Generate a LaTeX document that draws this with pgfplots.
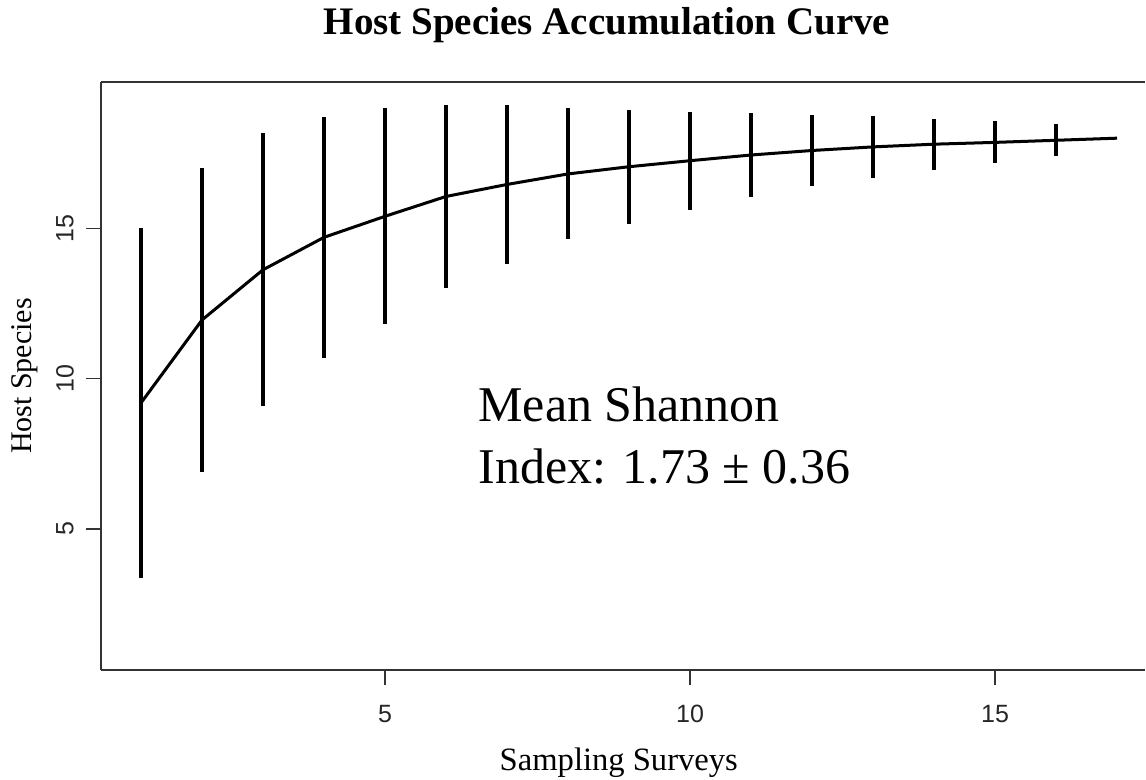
\documentclass[border=0pt]{standalone}
\usepackage{pgfplots}
\pgfplotsset{compat=1.18}
\usepackage{fontspec}
\setmainfont{Liberation Serif}
\newfontfamily\arialf{Liberation Sans}

\pgfplotstableread{
x  y      sd
1  9.19   5.82
2  11.95  5.05
3  13.62  4.55
4  14.70  4.02
5  15.40  3.59
6  16.06  3.04
7  16.46  2.64
8  16.81  2.18
9  17.05  1.89
10 17.25  1.63
11 17.44  1.39
12 17.59  1.18
13 17.71  1.02
14 17.80  0.85
15 17.86  0.70
16 17.93  0.53
17 18.00  0.00
}\accum

\begin{document}
\begin{tikzpicture}
\begin{axis}[
  scale only axis,
  width=522bp, height=294bp,
  xmin=0.344, xmax=17.459,
  ymin=0.30, ymax=19.87,
  axis x line*=box,
  axis y line*=left,
  axis line style={line width=0.9bp, black!80},
  xtick={5,10,15}, ytick={5,10,15},
  xtick pos=bottom, ytick pos=left,
  tick align=outside,
  major tick length=7.5bp,
  tick style={line width=0.8bp, black!80},
  /pgf/number format/assume math mode=true,
  ticklabel style={font=\arialf\fontsize{12.5bp}{14bp}\selectfont, text=black!85},
  xticklabel style={anchor=center, yshift=-14.5bp},
  yticklabel style={xshift=-10.5bp, rotate=90, anchor=center},
  title={\bfseries Host Species Accumulation Curve},
  title style={at={(axis description cs:0.4847,1.0602)}, anchor=base, font=\fontsize{19.5bp}{24bp}\selectfont},
  xlabel={Sampling Surveys},
  xlabel style={at={(axis description cs:0.496,-0.1713)}, anchor=base, font=\fontsize{16.3bp}{18bp}\selectfont},
  ylabel={Host Species},
  ylabel style={at={(axis description cs:-0.0661,0.5)}, anchor=base, font=\fontsize{15bp}{18bp}\selectfont},
  clip=false,
]
\addplot[black, line width=1.5bp, no markers,
  error bars/.cd, y dir=both, y explicit, error mark=none,
  error bar style={line width=1.6bp, black}]
  table[x=x, y=y, y error=sd] {\accum};
\node[anchor=base west, font=\fontsize{25bp}{30bp}\selectfont, inner sep=0pt] at (axis description cs:0.3611,0.4218) {Mean Shannon};
\node[anchor=base west, font=\fontsize{25bp}{30bp}\selectfont, inner sep=0pt] at (axis description cs:0.3611,0.3180) {Index: 1.73 ± 0.36};
\coordinate (bl) at (rel axis cs:0,0);
\coordinate (tr) at (rel axis cs:1,1);
\end{axis}
\pgfresetboundingbox
\useasboundingbox ([xshift=-50.5bp,yshift=-55bp]bl) rectangle ([xshift=0.5bp,yshift=41bp]tr);
\end{tikzpicture}
\end{document}
